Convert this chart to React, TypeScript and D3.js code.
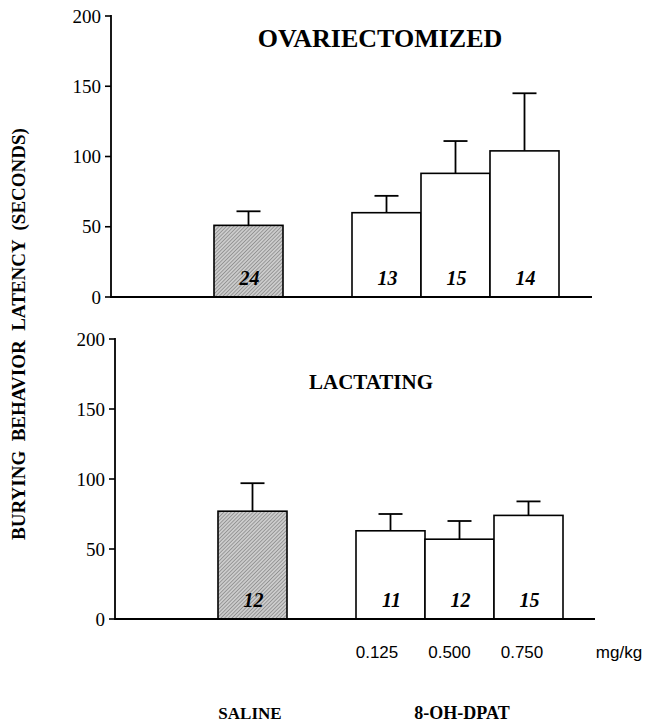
import React from "react";
import * as d3 from "d3";

const slots = ["_0", "SALINE", "_1", "0.125", "0.500", "0.750"];
const groups = ["SALINE", "0.125", "0.500", "0.750"];
const yTicks = [0, 50, 100, 150, 200];

const ovxMeans = [51, 60, 88, 104];
const ovxErr = [10, 12, 23, 41];
const ovxN = ["24", "13", "15", "14"];

const lacMeans = [77, 63, 57, 74];
const lacErr = [20, 12, 13, 10];
const lacN = ["12", "11", "12", "15"];

const doseLabels = ["0.125", "0.500", "0.750"];

const serif = "'Liberation Serif', 'Times New Roman', serif";
const sans = "'Liberation Sans', Arial, sans-serif";

type PanelProps = {
  left: number;
  axisRight: number;
  top: number;
  bottom: number;
  title: string;
  titleX: number;
  titleY: number;
  titleSize: number;
  means: number[];
  errs: number[];
  ns: string[];
};

function Panel({ left, axisRight, top, bottom, title, titleX, titleY, titleSize, means, errs, ns }: PanelProps) {
  const x = d3.scaleBand<string>().domain(slots).range([left + 34, left + 34 + 6 * 69]).padding(0);
  const y = d3.scaleLinear().domain([0, 200]).range([bottom, top]);
  const bw = x.bandwidth();
  return (
    <g>
      {groups.map((g, i) => {
        const x0 = x(g)!;
        const cx = x0 + bw / 2;
        const yt = y(means[i]);
        const ye = y(means[i] + errs[i]);
        return (
          <g key={g}>
            <line x1={cx} x2={cx} y1={yt} y2={ye} stroke="#000" strokeWidth={1.8} />
            <line x1={cx - 12} x2={cx + 12} y1={ye} y2={ye} stroke="#000" strokeWidth={1.8} />
            <rect
              x={x0}
              y={yt}
              width={bw}
              height={y(0) - yt}
              fill={i === 0 ? "url(#hatch)" : "#fff"}
              stroke="#000"
              strokeWidth={1.6}
            />
            <text
              x={cx + 1}
              y={bottom - 12}
              textAnchor="middle"
              fontFamily={serif}
              fontWeight="bold"
              fontStyle="italic"
              fontSize={20}
              fill="#000"
            >
              {ns[i]}
            </text>
          </g>
        );
      })}
      <line x1={left} x2={left} y1={top - 1} y2={bottom} stroke="#000" strokeWidth={1.8} />
      <line x1={left - 1} x2={axisRight} y1={bottom} y2={bottom} stroke="#000" strokeWidth={1.8} />
      {yTicks.map((t) => (
        <g key={t}>
          <line x1={left - 6} x2={left} y1={y(t)} y2={y(t)} stroke="#000" strokeWidth={1.6} />
          <text
            x={left - 10}
            y={y(t)}
            dy="0.35em"
            textAnchor="end"
            fontFamily={serif}
            fontSize={19}
            fill="#000"
          >
            {t}
          </text>
        </g>
      ))}
      <text
        x={titleX}
        y={titleY}
        textAnchor="middle"
        fontFamily={serif}
        fontWeight="bold"
        fontSize={titleSize}
        fill="#000"
      >
        {title}
      </text>
    </g>
  );
}

export default function App() {
  const doseX = d3.scalePoint<string>().domain(doseLabels).range([377, 522]);
  return (
    <svg width={647} height={723} style={{ position: "absolute", left: 0, top: 0, background: "#fff" }}>
      <defs>
        <pattern id="hatch" width={2.6} height={2.6} patternUnits="userSpaceOnUse" patternTransform="rotate(45)">
          <rect width={2.6} height={2.6} fill="#cccccc" />
          <line x1={0} y1={0} x2={0} y2={2.6} stroke="#666" strokeWidth={1} />
        </pattern>
      </defs>
      <Panel
        left={111}
        axisRight={592}
        top={16}
        bottom={297}
        title="OVARIECTOMIZED"
        titleX={380}
        titleY={47}
        titleSize={26}
        means={ovxMeans}
        errs={ovxErr}
        ns={ovxN}
      />
      <Panel
        left={115}
        axisRight={595}
        top={339}
        bottom={619}
        title="LACTATING"
        titleX={371}
        titleY={389}
        titleSize={21}
        means={lacMeans}
        errs={lacErr}
        ns={lacN}
      />
      {doseLabels.map((d) => (
        <text key={d} x={doseX(d)} y={658} textAnchor="middle" fontFamily={sans} fontSize={17} fill="#000">
          {d}
        </text>
      ))}
      <text x={619} y={658} textAnchor="middle" fontFamily={sans} fontSize={17} fill="#000">
        mg/kg
      </text>
      <text x={250} y={719} textAnchor="middle" fontFamily={serif} fontWeight="bold" fontSize={17} fill="#000">
        SALINE
      </text>
      <text x={462} y={719} textAnchor="middle" fontFamily={serif} fontWeight="bold" fontSize={18} fill="#000">
        8-OH-DPAT
      </text>
      <text
        transform="translate(18,334) rotate(-90)"
        textAnchor="middle"
        dy="0.35em"
        fontFamily={serif}
        fontWeight="bold"
        fontSize={19}
        fill="#000"
        style={{ whiteSpace: "pre" }}
      >
        {"BURYING  BEHAVIOR  LATENCY  (SECONDS)"}
      </text>
    </svg>
  );
}
